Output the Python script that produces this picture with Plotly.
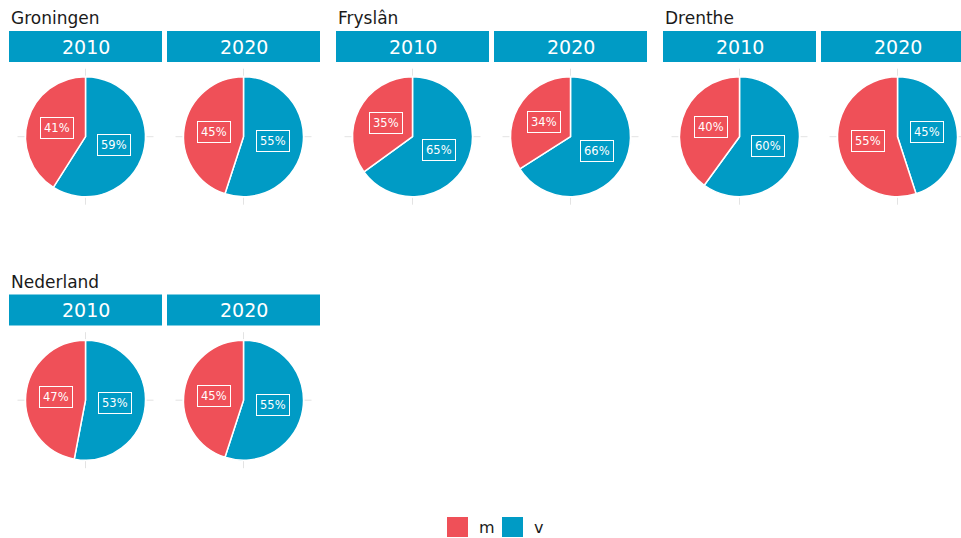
import math
import plotly.graph_objects as go

# ---- data ----
regions = ["Groningen", "Fryslân", "Drenthe", "Nederland"]
years = ["2010", "2020"]
categories = ["v", "m"]
v_values = [[59, 55], [65, 66], [60, 45], [53, 55]]
m_values = [[41, 45], [35, 34], [40, 55], [47, 45]]

# ---- style ----
BLUE = "#009BC5"
RED = "#EF5058"
GRID = "#E3E3E3"
FONT = "DejaVu Sans"
W, H = 961, 538
colors = {"v": BLUE, "m": RED}

region_col = [0, 1, 2, 0]
region_row = [0, 0, 0, 1]
R = 60


def px(x):
    return x / W


def py(y):
    return 1 - y / H


fig = go.Figure()
shapes = []
annotations = []

for ri, region in enumerate(regions):
    col, row = region_col[ri], region_row[ri]
    x0_region = 9 + col * 327
    y_off = row * 263.5
    annotations.append(dict(
        x=px(x0_region), y=py(18 + y_off), xref="paper", yref="paper",
        text=region, showarrow=False, xanchor="left", yanchor="middle",
        font=dict(family=FONT, size=17, color="#1a1a1a")))
    for yi, year in enumerate(years):
        sx = x0_region + yi * 158
        sw = 153
        st, sb = 31 + y_off, 62 + y_off
        shapes.append(dict(type="rect", xref="paper", yref="paper",
                           x0=px(sx), x1=px(sx + sw), y0=py(sb), y1=py(st),
                           fillcolor=BLUE, line=dict(width=0), layer="below"))
        annotations.append(dict(
            x=px(sx + sw / 2), y=py((st + sb) / 2), xref="paper", yref="paper",
            text=year, showarrow=False, xanchor="center", yanchor="middle",
            font=dict(family=FONT, size=19, color="white")))
        cx = sx + sw / 2
        cy = 136.7 + y_off
        # grid ticks
        for dx, dy in [(0, -1), (0, 1), (-1, 0), (1, 0)]:
            shapes.append(dict(type="line", xref="paper", yref="paper",
                               x0=px(cx + dx * 61), x1=px(cx + dx * 68),
                               y0=py(cy + dy * 61), y1=py(cy + dy * 68),
                               line=dict(color=GRID, width=1), layer="below"))
        vals = [v_values[ri][yi], m_values[ri][yi]]
        fig.add_trace(go.Pie(
            labels=categories, values=vals, sort=False, direction="clockwise",
            rotation=0, textinfo="none", hoverinfo="label+value",
            marker=dict(colors=[colors[c] for c in categories],
                        line=dict(color="white", width=1.5)),
            domain=dict(x=[px(cx - R), px(cx + R)], y=[py(cy + R), py(cy - R)]),
            showlegend=False))
        total = sum(vals)
        cum = 0
        for c, v in zip(categories, vals):
            frac = (cum + v / 2) / total
            cum += v
            th = 2 * math.pi * frac
            lx = cx + 0.5 * R * math.sin(th)
            ly = cy - 0.5 * R * math.cos(th)
            annotations.append(dict(
                x=px(lx), y=py(ly), xref="paper", yref="paper",
                text=f"{v}%", showarrow=False, xanchor="center", yanchor="middle",
                bgcolor=colors[c], bordercolor="white", borderwidth=1, borderpad=3,
                font=dict(family=FONT, size=11.5, color="white")))

# legend
legend_items = ["m", "v"]
lx0 = 447
for c in legend_items:
    shapes.append(dict(type="rect", xref="paper", yref="paper",
                       x0=px(lx0), x1=px(lx0 + 21), y0=py(537), y1=py(517),
                       fillcolor=colors[c], line=dict(width=0)))
    annotations.append(dict(
        x=px(lx0 + 30), y=py(527), xref="paper", yref="paper", text=c,
        showarrow=False, xanchor="left", yanchor="middle",
        font=dict(family=FONT, size=16, color="#1a1a1a")))
    lx0 += 55

fig.update_layout(
    width=W, height=H, margin=dict(l=0, r=0, t=0, b=0),
    paper_bgcolor="white", plot_bgcolor="white",
    shapes=shapes, annotations=annotations, showlegend=False,
)

fig.write_html(
    "out.html",
    config={"displayModeBar": False},
    post_script="document.body.style.margin='0';document.body.style.overflow='hidden';",
)
